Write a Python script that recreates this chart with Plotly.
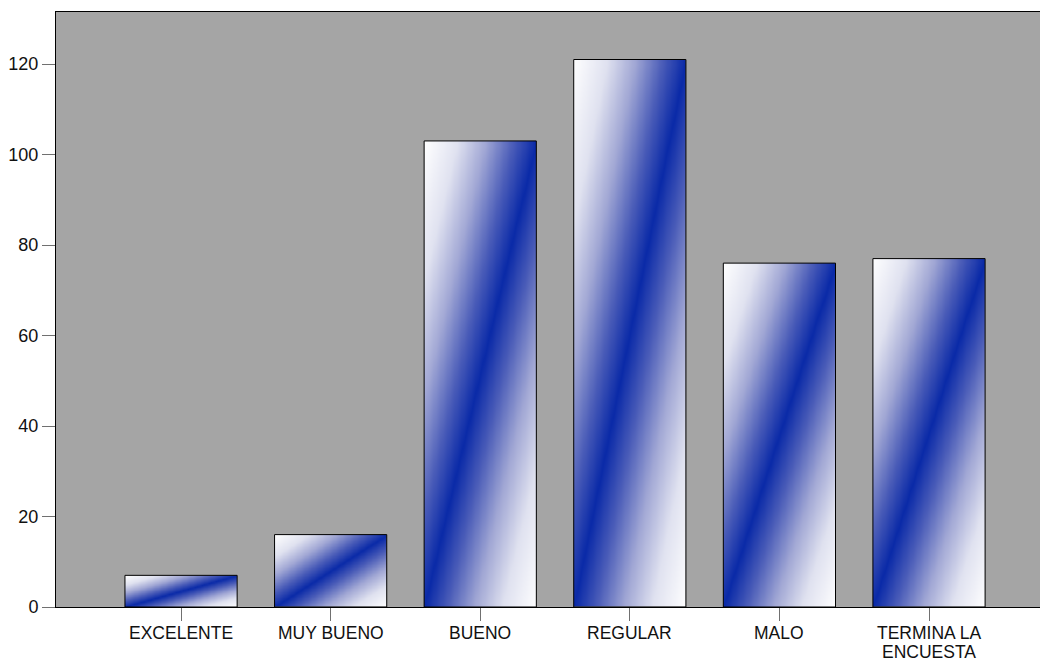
import numpy as np
import plotly.graph_objects as go

# Survey response counts
categories = ["EXCELENTE", "MUY BUENO", "BUENO", "REGULAR", "MALO", "TERMINA LA\nENCUESTA"]
counts = [7, 16, 103, 121, 76, 77]
y_ticks = [0, 20, 40, 60, 80, 100, 120]

BAR_WIDTH = 0.75
GRID = 48

# white -> blue -> white ramp across the bar diagonal
shade_scale = [
    [0.0, "#ffffff"], [0.15, "#e0e2f0"], [0.275, "#a2a8d5"], [0.4, "#4a5cb8"],
    [0.5, "#0a2aa8"],
    [0.6, "#4a5cb8"], [0.725, "#a2a8d5"], [0.85, "#e0e2f0"], [1.0, "#ffffff"],
]

fig = go.Figure()

# Diagonal shading inside each bar (blue band from bottom-left to top-right)
for i, value in enumerate(counts):
    x_edges = np.linspace(i - BAR_WIDTH / 2, i + BAR_WIDTH / 2, GRID + 1)
    y_edges = np.linspace(0, value, GRID + 1)
    u = (np.arange(GRID) + 0.5) / GRID
    v = (np.arange(GRID) + 0.5) / GRID
    z = u[None, :] - v[:, None]
    fig.add_trace(go.Heatmap(
        x=x_edges, y=y_edges, z=z,
        zmin=-1, zmax=1, zsmooth="best",
        colorscale=shade_scale,
        showscale=False, hoverinfo="skip",
    ))

# Bar outlines
fig.add_trace(go.Bar(
    x=list(range(len(categories))), y=counts, width=BAR_WIDTH,
    marker=dict(color="rgba(0,0,0,0)", line=dict(color="#000000", width=1)),
    hovertemplate="%{y}<extra></extra>",
))

# Category labels under the axis, one annotation per text line for tight line spacing
LINE_STEP = 18.5
for i, label in enumerate(categories):
    for k, line in enumerate(label.split("\n")):
        fig.add_annotation(
            x=i, xref="x", y=0, yref="paper",
            text=line, showarrow=False, borderpad=0,
            xanchor="center", yanchor="top",
            yshift=-15 - LINE_STEP * k,
            font=dict(family="Liberation Sans, Arial, sans-serif", size=17.5, color="#111111"),
        )

fig.update_layout(
    width=1040, height=661,
    margin=dict(l=56, r=0, t=12, b=54),
    paper_bgcolor="#ffffff",
    plot_bgcolor="#a5a5a5",
    showlegend=False,
    font=dict(family="Liberation Sans, Arial, sans-serif", size=18, color="#111111"),
    xaxis=dict(
        range=[-0.836, 5.742], automargin=False,
        tickmode="array", tickvals=list(range(len(categories))),
        showticklabels=False,
        ticks="outside", ticklen=13, tickwidth=1, tickcolor="#707070",
        showline=True, linecolor="#000000", linewidth=1, mirror=True,
        showgrid=False, zeroline=False,
    ),
    yaxis=dict(
        range=[0, 131.5], automargin=False,
        tickmode="array", tickvals=y_ticks,
        ticks="outside", ticklen=13, tickwidth=1, tickcolor="#707070",
        showline=True, linecolor="#000000", linewidth=1,
        showgrid=False, zeroline=False,
    ),
)

fig.write_html("out.html")
